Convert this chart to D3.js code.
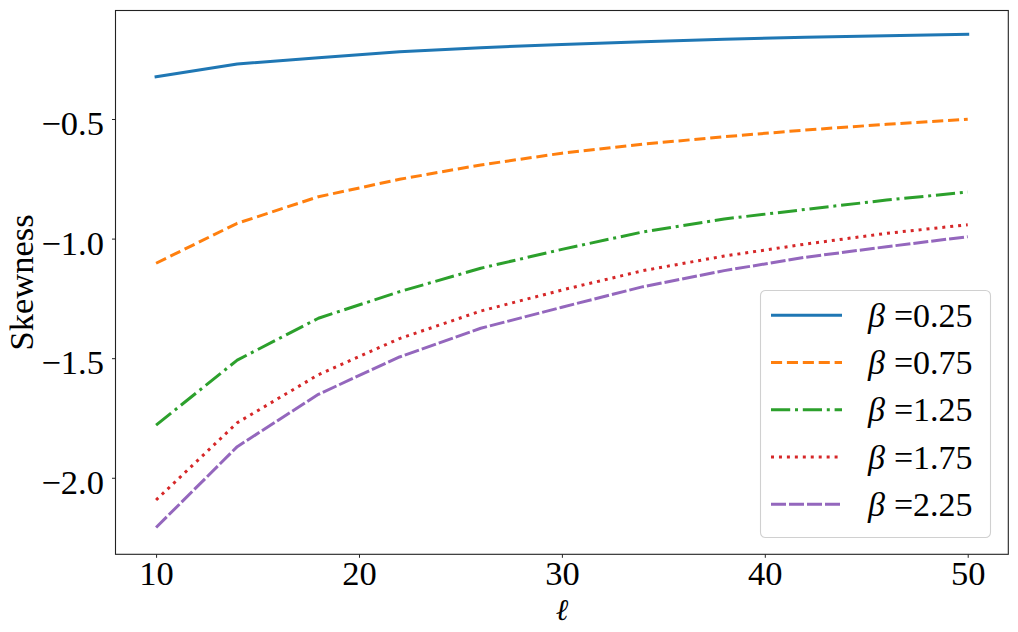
<!DOCTYPE html>
<html>
<head>
<meta charset="utf-8">
<script src="https://cdn.jsdelivr.net/npm/d3@7"></script>
<style>
    body { margin: 0; background: #fff; }
    #chart { width: 1018px; height: 632px; }
    text { font-family: "Liberation Serif", "DejaVu Serif", serif; fill: #000; }
</style>
</head>
<body>
<div id="chart"></div>
<script>
//Datos
const ells = [10, 14, 18, 22, 26, 30, 34, 38, 42, 46, 50];
const betas = ['0.25', '0.75', '1.25', '1.75', '2.25'];
const skew_b025 = [-0.323, -0.270, -0.244, -0.219, -0.202, -0.188, -0.177, -0.167, -0.158, -0.152, -0.146];
const skew_b075 = [-1.103, -0.936, -0.825, -0.752, -0.692, -0.643, -0.605, -0.574, -0.546, -0.522, -0.501];
const skew_b125 = [-1.780, -1.508, -1.333, -1.222, -1.124, -1.045, -0.972, -0.918, -0.878, -0.839, -0.805];
const skew_b175 = [-2.093, -1.770, -1.569, -1.418, -1.303, -1.215, -1.134, -1.073, -1.023, -0.978, -0.942];
const skew_b225 = [-2.208, -1.870, -1.651, -1.495, -1.375, -1.287, -1.201, -1.134, -1.078, -1.034, -0.992];
const xTicks = [10, 20, 30, 40, 50];
const yTicks = [-2.0, -1.5, -1.0, -0.5];

//Colores y estilos de línea
const COLORS = ['#1f77b4', '#ff7f0e', '#2ca02c', '#d62728', '#9467bd'];
const DASHES = [null, '11.1,4.8', '19.2,4.8,3,4.8', '3,4.95', '15,3'];

let series = [skew_b025, skew_b075, skew_b125, skew_b175, skew_b225].map(function(vals, i) {
    return {
        beta: betas[i],
        values: vals.map(function(v, j) { return {l: ells[j], s: v}; })
    };
});

let margin = {top: 10.5, right: 9.7, bottom: 77.7, left: 115.5},
    width = 1018 - margin.left - margin.right,
    height = 632 - margin.top - margin.bottom;

let svg = d3.select('#chart')
    .append('svg')
        .attr('width', 1018)
        .attr('height', 632)
    .append('g')
        .attr('transform', 'translate(' + margin.left + ',' + margin.top + ')');

let x = d3.scaleLinear()
    .domain([8, 52])
    .range([0, width]);

let y = d3.scaleLinear()
    .domain([-2.320, -0.0463])
    .range([height, 0]);

//Ejes
let xAxis = function(g) {
    g.call(d3.axisBottom(x).tickValues(xTicks).tickSize(3.5).tickPadding(6).tickFormat(d3.format('d')));
    g.call(function(g){ g.select('.domain').remove(); });
    g.selectAll('.tick line').attr('stroke', '#222').attr('stroke-width', 1);
    g.selectAll('.tick text')
        .attr('font-size', '34.5px')
        .attr('font-family', '"Liberation Serif", serif')
        .attr('dy', null)
        .attr('y', 30.7);
};

svg.append('g')
    .attr('transform', 'translate(0,' + height + ')')
    .call(xAxis);

let yAxis = function(g) {
    g.call(d3.axisLeft(y).tickValues(yTicks).tickSize(3.5).tickPadding(8).tickFormat(d3.format('.1f')));
    g.call(function(g){ g.select('.domain').remove(); });
    g.selectAll('.tick line').attr('stroke', '#222').attr('stroke-width', 1);
    g.selectAll('.tick text')
        .attr('font-size', '34.5px')
        .attr('font-family', '"Liberation Serif", serif')
        .attr('dy', null)
        .attr('y', 15.8)
        .attr('x', -11.5);
};

svg.append('g')
    .call(yAxis);

//Líneas
let line = d3.line()
    .x(function(d) { return x(d.l); })
    .y(function(d) { return y(d.s); });

svg.selectAll('.serie')
    .data(series)
    .enter()
    .append('path')
    .attr('class', 'serie')
    .attr('fill', 'none')
    .attr('stroke', function(d, i) { return COLORS[i]; })
    .attr('stroke-width', 3)
    .attr('stroke-linecap', function(d, i) { return i == 0 ? 'square' : 'butt'; })
    .attr('stroke-linejoin', 'round')
    .attr('stroke-dasharray', function(d, i) { return DASHES[i]; })
    .attr('d', function(d) { return line(d.values); });

//Marco
svg.append('rect')
    .attr('x', 0)
    .attr('y', 0)
    .attr('width', width)
    .attr('height', height)
    .attr('fill', 'none')
    .attr('stroke', '#222')
    .attr('stroke-width', 1.1);

//Títulos de ejes
svg.append('text')
    .attr('transform', 'translate(' + (33 - margin.left) + ',' + (height / 2) + ') rotate(-90)')
    .attr('text-anchor', 'middle')
    .attr('font-size', '34.5px')
    .text('Skewness');

svg.append('text')
    .attr('x', width / 2)
    .attr('y', 620 - margin.top)
    .attr('text-anchor', 'middle')
    .attr('font-size', '30px')
    .attr('font-style', 'italic')
    .text('ℓ');

//Leyenda
let legend = svg.append('g')
    .attr('transform', 'translate(' + (760 - margin.left) + ',' + (290 - margin.top) + ')');

legend.append('rect')
    .attr('x', 0.5)
    .attr('y', 0.5)
    .attr('width', 230)
    .attr('height', 247)
    .attr('rx', 5)
    .attr('fill', 'rgba(255,255,255,0.8)')
    .attr('stroke', '#d0d0d0')
    .attr('stroke-width', 1.1);

let rows = legend.selectAll('.row')
    .data(series)
    .enter()
    .append('g')
    .attr('class', 'row')
    .attr('transform', function(d, i) { return 'translate(0,' + (25.3 + i * 47.25) + ')'; });

rows.append('line')
    .attr('x1', 11)
    .attr('x2', 82)
    .attr('stroke', function(d, i) { return COLORS[i]; })
    .attr('stroke-width', 3)
    .attr('stroke-dasharray', function(d, i) { return DASHES[i]; });

let labels = rows.append('text')
    .attr('x', 108)
    .attr('y', 11.5)
    .attr('font-size', '34px');

labels.append('tspan')
    .attr('font-style', 'italic')
    .text('β');

labels.append('tspan')
    .attr('dx', 9)
    .text(function(d) { return '=' + d.beta; });
</script>
</body>
</html>
